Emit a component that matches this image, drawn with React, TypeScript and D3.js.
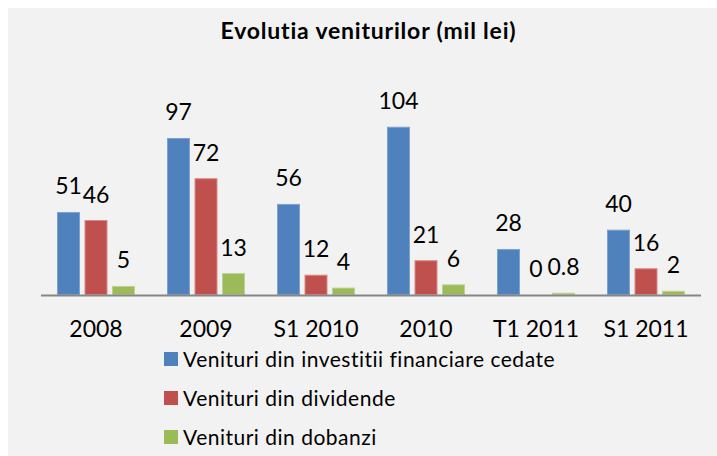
import React, { useEffect, useRef } from "react";
import * as d3 from "d3";

const categories = ["2008", "2009", "S1 2010", "2010", "T1 2011", "S1 2011"];
const seriesNames = [
  "Venituri din investitii financiare cedate",
  "Venituri din dividende",
  "Venituri din dobanzi",
];
const investitii = [51, 97, 56, 104, 28, 40];
const dividende = [46, 72, 12, 21, 0, 16];
const dobanzi = [5, 13, 4, 6, 0.8, 2];
const colors = ["#4F81BD", "#C0504D", "#9BBB59"];
const strokes = ["#7FA3D1", "#D98A88", "#BDD393"];

const App = () => {
  const svgRef = useRef(null);

  useEffect(() => {
    const width = 717;
    const height = 456;
    const font = "Lato, 'Open Sans', sans-serif";

    const svg = d3
      .select(svgRef.current)
      .attr("width", width)
      .attr("height", height)
      .style("font-variant-ligatures", "none");
    svg.selectAll("*").remove();

    // chart area background
    svg
      .append("rect")
      .attr("x", 8)
      .attr("y", 8)
      .attr("width", width - 8)
      .attr("height", height - 8)
      .attr("fill", "#F2F2F2");

    svg
      .append("text")
      .attr("x", 368.5)
      .attr("y", 38.5)
      .attr("text-anchor", "middle")
      .attr("font-family", font)
      .attr("font-weight", "bold")
      .attr("font-size", "23px")
      .attr("letter-spacing", "0.8px")
      .attr("fill", "#000")
      .text("Evolutia veniturilor (mil lei)");

    const x0 = d3.scaleBand().domain(categories).range([41, 701]);
    const x1 = d3
      .scaleBand()
      .domain(seriesNames)
      .range([16.5, x0.bandwidth() - 16.5])
      .paddingInner(0.2);
    const y = d3.scaleLinear().domain([0, 120]).range([294.5, 101.5]);

    const allSeries = [investitii, dividende, dobanzi];

    allSeries.forEach((values, si) => {
      const g = svg.append("g");
      const bx = (i) => x0(categories[i]) + x1(seriesNames[si]);

      g.selectAll("rect")
        .data(values)
        .join("rect")
        .attr("x", (d, i) => bx(i))
        .attr("y", (d) => y(d))
        .attr("width", x1.bandwidth())
        .attr("height", (d) => y(0) - y(d))
        .attr("fill", colors[si])
        .attr("stroke", strokes[si])
        .attr("stroke-width", 1);

      g.selectAll("text")
        .data(values)
        .join("text")
        .attr("x", (d, i) => bx(i) + x1.bandwidth() / 2)
        .attr("y", (d) => y(d) - 18)
        .attr("text-anchor", "middle")
        .attr("font-family", font)
        .attr("font-size", "23px")
        .attr("fill", "#000")
        .text((d) => String(d));
    });

    // category axis
    svg
      .append("line")
      .attr("x1", 41)
      .attr("x2", 701)
      .attr("y1", y(0) + 1)
      .attr("y2", y(0) + 1)
      .attr("stroke", "#868686")
      .attr("stroke-width", 2);

    svg
      .append("g")
      .selectAll("text")
      .data(categories)
      .join("text")
      .attr("x", (d) => x0(d) + x0.bandwidth() / 2)
      .attr("y", 336.7)
      .attr("text-anchor", "middle")
      .attr("font-family", font)
      .attr("font-size", "23px")
      .attr("fill", "#000")
      .text((d) => d);

    // legend
    const legend = svg
      .append("g")
      .selectAll("g")
      .data(seriesNames)
      .join("g")
      .attr("transform", (d, i) => `translate(164, ${352 + i * 39})`);

    legend
      .append("rect")
      .attr("width", 14)
      .attr("height", 14)
      .attr("fill", (d, i) => colors[i]);

    legend
      .append("text")
      .attr("x", 19)
      .attr("y", 14.5)
      .attr("font-family", font)
      .attr("font-size", "21px")
      .attr("letter-spacing", "0.5px")
      .attr("fill", "#000")
      .text((d) => d);
  }, []);

  return (
    <svg ref={svgRef} style={{ position: "absolute", left: 0, top: 0 }}></svg>
  );
};

export default App;
